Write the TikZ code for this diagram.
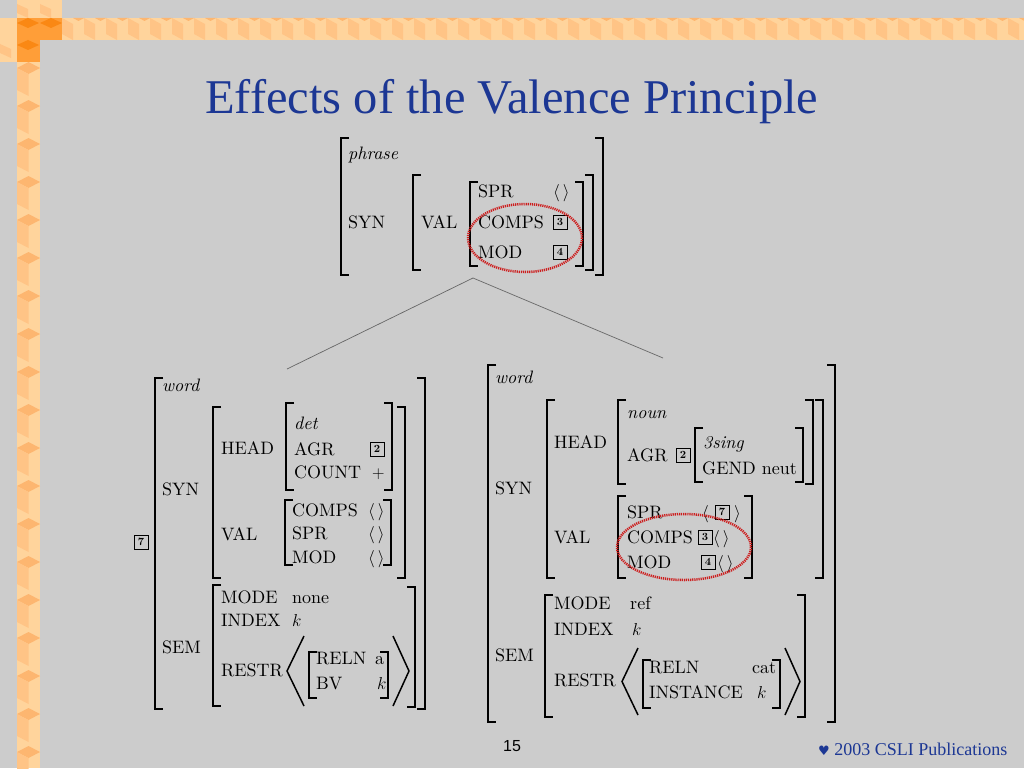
\documentclass[tikz,border=0pt]{standalone}
\usepackage{fontspec}
\usepackage{amsmath}
\usepackage{tikz}
\newfontfamily\titlefont{Liberation Serif}
\newfontfamily\footfont{Liberation Sans}
\newfontfamily\heartfont{DejaVu Sans}
\newfontfamily\avmfamily{lmroman10-regular.otf}[ItalicFont=lmroman10-italic.otf, BoldFont=lmroman10-bold.otf]
\definecolor{slidebg}{RGB}{204,204,204}
\definecolor{titleblue}{RGB}{28,55,148}
\definecolor{cubelight}{RGB}{255,212,156}
\definecolor{cubemid}{RGB}{255,196,134}
\definecolor{cubedark}{RGB}{253,182,112}
\definecolor{cubedeep}{RGB}{255,158,56}
\definecolor{cubedeeper}{RGB}{250,136,20}
\definecolor{loopred}{RGB}{205,30,30}
\newcommand\avmfont{\avmfamily\fontsize{18}{21}\selectfont}
\newcommand\tagfont{\avmfamily\bfseries\fontsize{11}{11}\selectfont}
\newcommand\elist{$\langle\,\rangle$}
\tikzset{
  avm/.style={anchor=west, inner sep=0pt, text height=12pt, text depth=0pt, font=\avmfont},
  tagbox/.style={draw, line width=0.9pt, inner sep=0pt, minimum size=14pt, font=\tagfont},
  brk/.style={line width=2pt},
  angbrk/.style={line width=1.5pt, line join=miter},
  loopmark/.style={draw=loopred, line width=2.5pt, dash pattern=on 1.2pt off 0.9pt},
  treeline/.style={draw=black!60, line width=0.7pt}
}
\begin{document}
\begin{tikzpicture}[x=1pt, y=-1pt]
	\fill[slidebg] (0,0) rectangle (1024,768);
	\useasboundingbox (0,0) rectangle (1024,768);
	\fill[cubelight] (0,18) rectangle (1024,40);
	\foreach \x in {62,84,...,1024} {
		\fill[cubemid] (\x,18) -- (\x+11,24) -- (\x+11,40) -- (\x,34) -- cycle;
		\fill[cubedark] (\x+11,18) -- (\x+22,18) -- (\x+16.5,21) -- cycle;
	}
	\fill[cubelight] (17,0) rectangle (40,768);
	\foreach \y in {62,100,...,768} {
		\fill[cubedark] (17,\y+6) -- (28.5,\y) -- (40,\y+6) -- (28.5,\y+12) -- cycle;
		\fill[cubemid] (17,\y+6) -- (28.5,\y+12) -- (28.5,\y+34) -- (17,\y+28) -- cycle;
	}
	\fill[cubelight] (17,0) rectangle (62,18);
	\fill[cubelight] (0,18) rectangle (17,62);
	\fill[cubedeep] (17,18) rectangle (62,40);
	\fill[cubedeep] (17,40) rectangle (40,62);
	\foreach \x/\y in {17/18, 40/18, 17/40}
		\fill[cubedeeper] (\x,\y+5) -- (\x+11,\y) -- (\x+22,\y+5) -- (\x+11,\y+10) -- cycle;
	\foreach \x/\y in {17/0, 40/0, 0/40}
		\fill[cubemid] (\x,\y+4) -- (\x+11,\y+9) -- (\x+11,\y+18) -- (\x,\y+13) -- cycle;

	\node[font=\titlefont\fontsize{48.5}{52}\selectfont, text=titleblue, anchor=base west, inner sep=0pt] (title) at (205,113) {Effects of the Valence Principle};

	\foreach \x/\t/\b in {341/138/275, 413/175/270, 470/182/266,
		155/378/709, 213/407/578, 286/403/490, 285/500/565, 213/585/706, 309/652/698,
		488/365/722, 547/400/578, 618/400/484, 695/428/482, 618/496/578, 545/595/717, 643/660/708}
		\draw[brk] (\x+8,\t) -- (\x,\t) -- (\x,\b) -- (\x+8,\b);
	\foreach \x/\t/\b in {603/138/275, 593/175/270, 583/182/266,
		425/378/709, 405/407/578, 392/403/490, 391/500/565, 415/587/707, 388/652/698,
		835/365/722, 823/400/578, 813/400/484, 803/428/482, 752/496/578, 805/595/717, 780/660/708}
		\draw[brk] (\x-8,\t) -- (\x,\t) -- (\x,\b) -- (\x-8,\b);
	\foreach \l/\r/\t/\b in {287/304/636/706, 622/638/648/715}
		\draw[angbrk] (\r,\t) -- (\l,{(\t+\b)/2}) -- (\r,\b);
	\foreach \l/\r/\t/\b in {393/409/636/706, 785/800/648/715}
		\draw[angbrk] (\l,\t) -- (\r,{(\t+\b)/2}) -- (\l,\b);

	\foreach \x/\y/\t [count=\i] in {348/153/\textit{phrase}, 348/222/SYN, 421/222/VAL,
		478/191/SPR, 478/222/COMPS, 478/252/MOD, 553/191/\elist}
		\node[avm] (phr-\i) at (\x,\y) {\t};
	\foreach \x/\y/\t [count=\i] in {162/385/\textit{word}, 162/489/SYN, 221/448/HEAD,
		294/423/\textit{det}, 294/449/AGR, 294/472/COUNT, 372/472/$+$,
		221/534/VAL, 292/510/COMPS, 292/533/SPR, 292/557/MOD,
		368/510/\elist, 368/533/\elist, 368/557/\elist,
		162/647/SEM, 221/597/MODE, 292/597/none, 221/620/INDEX, 292/620/$k$,
		221/670/RESTR, 316/658/RELN, 375/658/a, 316/683/BV, 377/683/$k$}
		\node[avm] (det-\i) at (\x,\y) {\t};
	\foreach \x/\y/\t [count=\i] in {495/377/\textit{word}, 495/488/SYN, 554/442/HEAD,
		627/412/\textit{noun}, 627/455/AGR, 703/442/\textit{3sing}, 702/468/GEND neut,
		554/537/VAL, 627/512/SPR, 627/537/COMPS, 627/562/MOD,
		702/512/$\langle$, 734/512/$\rangle$, 713/537/\elist, 717/562/\elist,
		495/655/SEM, 554/603/MODE, 630/603/ref, 554/629/INDEX, 632/629/$k$,
		554/680/RESTR, 649/667/RELN, 752/667/cat, 649/692/INSTANCE, 757/692/$k$}
		\node[avm] (noun-\i) at (\x,\y) {\t};
	\foreach \x/\y/\n/\m in {560/222/3/phrcomps, 560/252/4/phrmod, 377/449/2/detagr,
		141/542/7/dettag, 683/455/2/nounagr, 722/512/7/nounspr, 705/537/3/nouncomps, 708/562/4/nounmod}
		\node[tagbox] (\m) at (\x,\y) {\n};

	\draw[loopmark] (525,238) ellipse [x radius=57, y radius=34];
	\draw[loopmark] (684,547) ellipse [x radius=67, y radius=33];

	\coordinate (mother) at (473,278);
	\coordinate (dtrleft) at (287,369);
	\coordinate (dtrright) at (663,358);
	\draw[treeline] (dtrleft) -- (mother) -- (dtrright);

	\node[anchor=base west, inner sep=0pt, font=\footfont\fontsize{16}{18}\selectfont] (pagenum) at (503,751) {15};
	\node[anchor=base west, inner sep=0pt, text=titleblue, font=\titlefont\fontsize{18}{20}\selectfont] (credit) at (818,755) {{\heartfont\fontsize{13}{13}\selectfont ♥} 2003 CSLI Publications};
\end{tikzpicture}
\end{document}
